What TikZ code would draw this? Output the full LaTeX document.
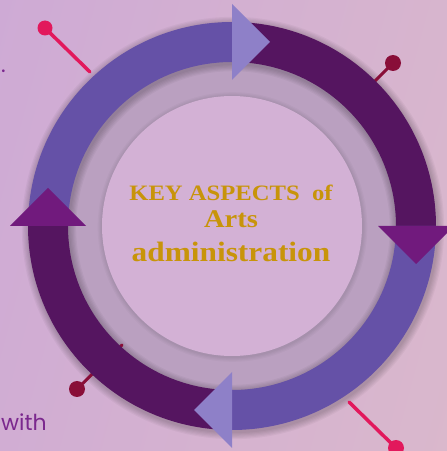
\documentclass[tikz,border=0pt]{standalone}
\usepackage{fontspec}
\setmainfont{Liberation Serif}
\newfontfamily\sidefont{Poppins}
\newfontfamily\titlefont{Liberation Serif}[FakeStretch=1.12]
\usetikzlibrary{calc}

\definecolor{bgleft}{RGB}{206,170,213}
\definecolor{bgright}{RGB}{218,184,204}
\definecolor{ringgray}{RGB}{186,160,192}
\definecolor{innerdisc}{RGB}{211,177,213}
\definecolor{bandblue}{RGB}{101,81,167}
\definecolor{banddark}{RGB}{85,21,96}
\definecolor{arrowlight}{RGB}{142,128,200}
\definecolor{arrowplum}{RGB}{113,26,125}
\definecolor{pinpink}{RGB}{226,24,92}
\definecolor{pincrimson}{RGB}{137,14,56}
\definecolor{titlegold}{RGB}{200,148,10}
\definecolor{sidepurple}{RGB}{123,40,142}

\begin{document}
\begin{tikzpicture}[x=1pt,y=1pt,
    pinline/.style={line width=#1, line cap=round},
    titletext/.style={text=titlegold, anchor=base, inner sep=0pt},
    sidetext/.style={text=sidepurple, inner sep=0pt,
      font=\sidefont\fontsize{22}{26}\selectfont}]
  \useasboundingbox (0,0) rectangle (447,451);
  \clip (0,0) rectangle (447,451);
  \shade[left color=bgleft, right color=bgright, shading angle=75]
    (-60,-60) rectangle (507,511);

  \coordinate (c) at (232,225);

  % gray ring and inner disc
  \fill[ringgray] (c) circle (166);
  \foreach \w in {1,...,6}
    \draw[black, opacity=0.035, line width=40+2.4*\w] ($(c)+(1,-2)$) circle (184);
  \foreach \w in {1,...,4}
    \fill[black, opacity=0.025] ($(c)+(0.5,-1)$) circle (130+1.2*\w);
  \fill[innerdisc] (c) circle (130);

  % pins
  \coordinate (tlhead) at (45,423);  \coordinate (tlend) at (90,379);
  \coordinate (trhead) at (393,388); \coordinate (trend) at (362,357);
  \coordinate (blhead) at (77,62);   \coordinate (blend) at (122,106);
  \coordinate (brhead) at (396,3);   \coordinate (brend) at (349,49);
  \draw[pinpink, pinline=3.5pt] (tlhead) -- (tlend);
  \fill[pinpink] (tlhead) circle (7.5);
  \draw[pincrimson, pinline=3pt] (trhead) -- (trend);
  \fill[pincrimson] (trhead) circle (8);
  \draw[pincrimson, pinline=3pt] (blhead) -- (blend);
  \fill[pincrimson] (blhead) circle (8);
  \draw[pinpink, pinline=3.5pt] (brhead) -- (brend);
  \fill[pinpink] (brhead) circle (8);

  % ring
  \foreach \s/\col in {0/banddark, 90/bandblue, 180/banddark, 270/bandblue}
    \fill[\col, shift={(c)}] (\s:204) arc[start angle=\s, end angle=\s+90, radius=204]
      -- ({\s+90}:164) arc[start angle=\s+90, end angle=\s, radius=164] -- cycle;
  \foreach \a/\col in {90/arrowlight, 0/arrowplum, -90/arrowlight, 180/arrowplum}
    \fill[\col, shift={(c)}, rotate=\a-90] (0,146) -- (0,222) -- (38,184) -- cycle;

  % titles
  \node[titletext, font=\titlefont\bfseries\fontsize{22}{26}\selectfont]
    (key) at (231,251) {KEY ASPECTS~ of};
  \node[titletext, font=\titlefont\bfseries\fontsize{25.5}{30}\selectfont]
    (arts) at (231,223) {Arts};
  \node[titletext, font=\titlefont\bfseries\fontsize{28}{32}\selectfont]
    (admin) at (231,189) {administration};

  \node[sidetext, anchor=base west] (with) at (1,20) {with};
  \node[sidetext, anchor=base west] (dot) at (1,378) {.};
\end{tikzpicture}
\end{document}
